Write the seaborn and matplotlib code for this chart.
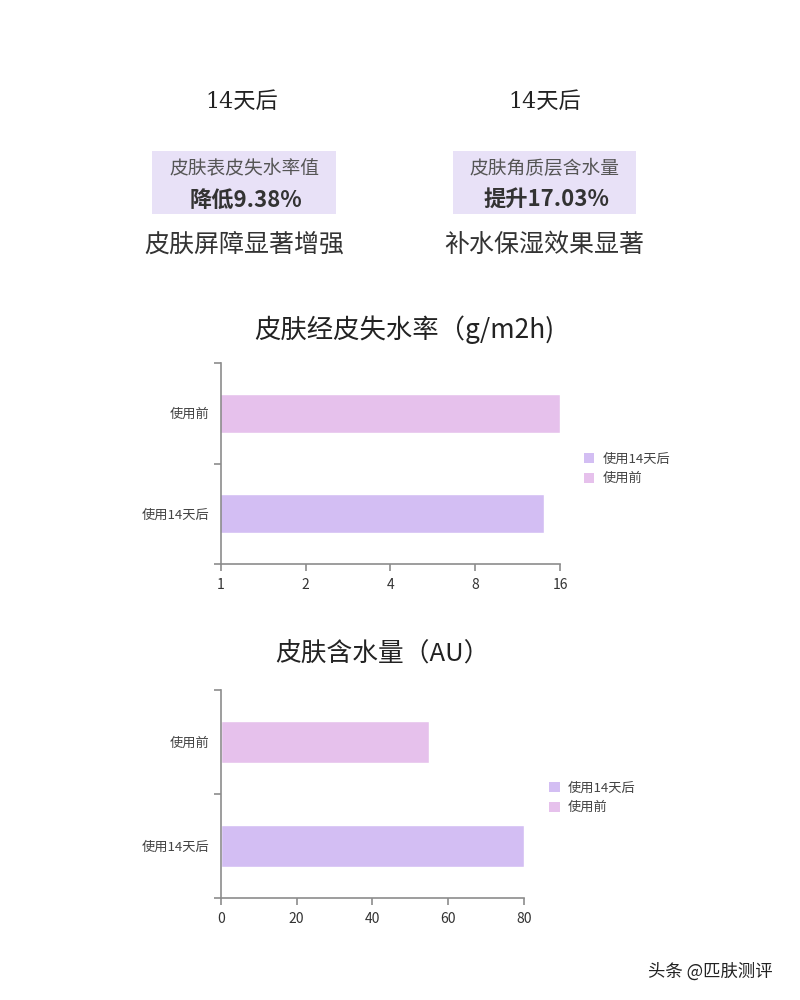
import numpy as np
import pandas as pd
import matplotlib
matplotlib.use('Agg')
import matplotlib.pyplot as plt
import seaborn as sb
from matplotlib.patches import Patch, Rectangle

# data
groups = ['使用前', '使用14天后']
tewl_values = [16.0, 14.0]        # 皮肤经皮失水率 (g/m2h), log2 axis
moisture_values = [55, 80]        # 皮肤含水量 (AU)
tewl_ticks = [1, 2, 4, 8, 16]
moisture_ticks = [0, 20, 40, 60, 80]

bar_colors = {'使用前': '#E6C1EC', '使用14天后': '#D3BEF3'}
legend_order = ['使用14天后', '使用前']

sb.set_style('white')
plt.rcParams['font.family'] = ['Noto Sans CJK SC', 'DejaVu Sans']

fig = plt.figure(figsize=(8, 10), dpi=100)
fig.patch.set_facecolor('white')

# ---- header texts ----
def px(x, y):
    return x / 800, 1 - y / 1000

for cx, box, line1, line2, line3 in [
        (242, (152, 336), '皮肤表皮失水率值', '降低9.38%', '皮肤屏障显著增强'),
        (545, (453, 636), '皮肤角质层含水量', '提升17.03%', '补水保湿效果显著')]:
    fig.text(*px(cx, 102), '14天后', ha='center', va='center', fontsize=16,
             color='#222222', family=['DejaVu Serif', 'Noto Sans CJK SC'])
    x0, y0 = px(box[0], 214)
    fig.patches.append(Rectangle((x0, y0), (box[1] - box[0]) / 800, 63 / 1000,
                                 transform=fig.transFigure, facecolor='#E8E1F7',
                                 edgecolor='none', zorder=0))
    mid = (box[0] + box[1]) / 2
    fig.text(*px(mid, 168), line1, ha='center', va='center', fontsize=13.5, color='#555555')
    fig.text(*px(mid + 2, 200), line2, ha='center', va='center', fontsize=16,
             fontweight='bold', color='#333333')
    fig.text(*px(mid, 245), line3, ha='center', va='center', fontsize=18,
             fontweight='medium', color='#333333')


def style_axis(ax):
    sb.despine(ax=ax)
    for s in ['left', 'bottom']:
        ax.spines[s].set_color('#8c8c8c')
        ax.spines[s].set_linewidth(1.2)
    ax.set_ylim(1.5, -0.5)
    ax.set_yticks([-0.5, 0.5, 1.5], minor=True)
    ax.tick_params(axis='y', which='major', left=True, length=0, labelsize=9.5,
                   labelcolor='#444444', pad=8)
    ax.tick_params(axis='y', which='minor', left=True, length=5, color='#8c8c8c', width=1.2)
    ax.tick_params(axis='x', which='major', bottom=True, length=5, color='#8c8c8c', width=1.2,
                   labelsize=10, labelcolor='#333333', pad=5)
    ax.tick_params(axis='x', which='minor', bottom=False, length=0)
    ax.set_xlabel('')
    ax.set_ylabel('')


def add_legend(ax, x, y):
    handles = [Patch(facecolor=bar_colors[g], edgecolor='none', label=g) for g in legend_order]
    fig.legend(handles=handles, loc='center left', bbox_to_anchor=(x, y), frameon=False,
               fontsize=9.5, handlelength=0.8, handleheight=0.8, handletextpad=0.6,
               labelspacing=0.5, labelcolor='#444444')


# ---- chart 1 : TEWL ----
df1 = pd.DataFrame({'group': groups, 'value': tewl_values})
ax1 = fig.add_axes([0.276, 0.436, 0.424, 0.201])
ax1.set_xscale('log', base=2)
sb.barplot(data=df1, x='value', y='group', hue='group', palette=bar_colors,
           order=groups, width=0.39, saturation=1, legend=False, ax=ax1)
ax1.set_xlim(1, 16)
ax1.set_xticks(tewl_ticks)
ax1.set_xticklabels([str(t) for t in tewl_ticks])
style_axis(ax1)
fig.text(*px(404, 330), '皮肤经皮失水率（g/m2h)', ha='center', va='center',
         fontsize=19, fontweight='medium', color='#222222')
add_legend(ax1, 0.715, 0.531)

# ---- chart 2 : moisture ----
df2 = pd.DataFrame({'group': groups, 'value': moisture_values})
ax2 = fig.add_axes([0.276, 0.102, 0.379, 0.208])
sb.barplot(data=df2, x='value', y='group', hue='group', palette=bar_colors,
           order=groups, width=0.395, saturation=1, legend=False, ax=ax2)
ax2.set_xlim(0, 80)
ax2.set_xticks(moisture_ticks)
style_axis(ax2)
fig.text(*px(382, 655), '皮肤含水量（AU）', ha='center', va='center',
         fontsize=18.5, fontweight='medium', color='#222222')
add_legend(ax2, 0.672, 0.202)

# watermark
fig.text(*px(710, 972), '头条 @匹肤测评', ha='center', va='center', fontsize=12.5,
         color='#222222')

fig.savefig('out.png', dpi=100, facecolor='white')
